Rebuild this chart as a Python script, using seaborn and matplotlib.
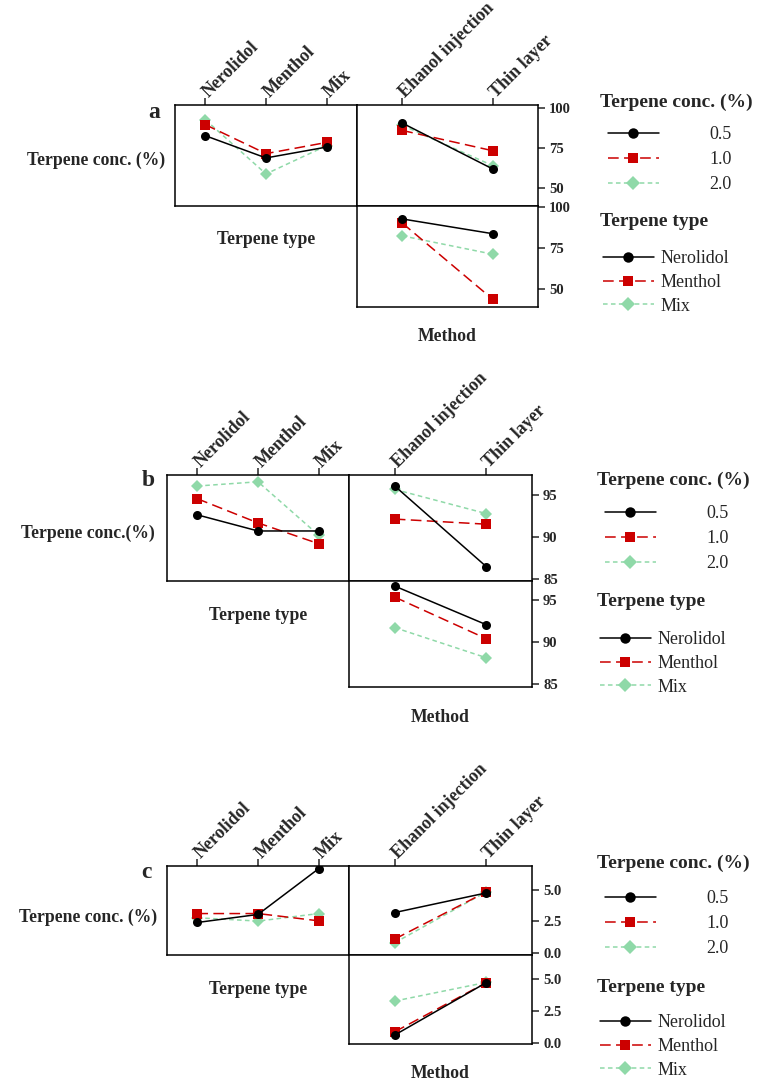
import matplotlib
matplotlib.use("Agg")
import matplotlib.pyplot as plt
import seaborn as sns
import pandas as pd
from matplotlib.lines import Line2D

# ---------------- data ----------------
type_labels = ["Nerolidol", "Menthol", "Mix"]
method_labels = ["Ehanol injection", "Thin layer"]
conc_labels = ["0.5", "1.0", "2.0"]

# panel a
a_type_by_conc = {"0.5": [82.7, 68.8, 75.6], "1.0": [89.6, 71.5, 78.5], "2.0": [92.7, 58.8, 76.5]}
a_method_by_conc = {"0.5": [90.6, 61.9], "1.0": [86.0, 73.3], "2.0": [89.2, 64.0]}
a_method_by_type = {"Nerolidol": [92.7, 83.7], "Menthol": [90.2, 43.7], "Mix": [82.4, 71.2]}
a_yticks = [50, 75, 100]
a_yticklabels = ["50", "75", "100"]

# panel b
b_type_by_conc = {"0.5": [92.6, 90.7, 90.7], "1.0": [94.5, 91.65, 89.2], "2.0": [96.0, 96.5, 90.2]}
b_method_by_conc = {"0.5": [96.0, 86.5], "1.0": [92.1, 91.5], "2.0": [95.6, 92.75]}
b_method_by_type = {"Nerolidol": [96.6, 92.05], "Menthol": [95.3, 90.4], "Mix": [91.7, 88.15]}
b_yticks = [85, 90, 95]
b_yticklabels = ["85", "90", "95"]

# panel c
c_type_by_conc = {"0.5": [2.42, 3.05, 6.64], "1.0": [3.12, 3.12, 2.55], "2.0": [2.79, 2.53, 3.12]}
c_method_by_conc = {"0.5": [3.2, 4.74], "1.0": [1.12, 4.82], "2.0": [0.83, 4.82]}
c_method_by_type = {"Nerolidol": [0.65, 4.72], "Menthol": [0.9, 4.72], "Mix": [3.29, 4.74]}
c_yticks = [0.0, 2.5, 5.0]
c_yticklabels = ["0.0", "2.5", "5.0"]

# ---------------- style ----------------
sns.set_style("white")
SERIF = ["Liberation Serif", "DejaVu Serif"]
plt.rcParams["font.family"] = SERIF

COLORS = ["#000000", "#cc0000", "#8fd9a8"]
MARKERS = ["o", "s", "D"]
DASHES = ["", (7, 3.5), (3, 2.2)]
LS = ["-", (0, (7, 3.5)), (0, (3, 2.2))]

W, H = 765, 1086
fig = plt.figure(figsize=(W / 100, H / 100), dpi=100)


def px_axes(l, t, r, b):
    return fig.add_axes([l / W, 1 - b / H, (r - l) / W, (b - t) / H])


def draw_series(ax, series_dict):
    names = list(series_dict.keys())
    rows = []
    for name in names:
        for j, v in enumerate(series_dict[name]):
            rows.append({"x": j, "y": v, "s": name})
    df = pd.DataFrame(rows)
    order = names[::-1]  # draw black last (on top)
    sns.lineplot(data=df, x="x", y="y", hue="s", style="s", hue_order=order,
                 style_order=order,
                 palette=dict(zip(names, COLORS)),
                 markers=dict(zip(names, MARKERS)),
                 dashes=dict(zip(names, DASHES)),
                 markersize=6.5, markeredgewidth=0, linewidth=1.1,
                 legend=False, ax=ax)
    ax.set_xlabel("")
    ax.set_ylabel("")


def style_ax(ax, n_x, ylim, top_labels=None, yticks=None, yticklabels=None):
    ax.set_xlim(-0.5, n_x - 0.5)
    ax.set_ylim(*ylim)
    for sp in ax.spines.values():
        sp.set_linewidth(1.1)
        sp.set_color("black")
    if top_labels is not None:
        ax.xaxis.tick_top()
        ax.set_xticks(range(n_x))
        ax.set_xticklabels(top_labels, rotation=45, ha="left", va="center",
                           rotation_mode="anchor", fontweight="bold",
                           fontsize=13, family=SERIF)
        ax.tick_params(axis="x", direction="out", length=5, width=1.1, pad=2,
                       top=True, bottom=False)
    else:
        ax.set_xticks([])
    if yticks is not None:
        ax.yaxis.tick_right()
        ax.set_yticks(yticks)
        ax.set_yticklabels(yticklabels, fontweight="bold", fontsize=10.5, family=SERIF)
        ax.tick_params(axis="y", direction="out", length=5, width=1.1, pad=3,
                       right=True, left=False)
    else:
        ax.set_yticks([])
    ax.grid(False)


def panel(letter, box, data_tl, data_tr, data_br, ylim_top, ylim_bot, yticks, yticklabels,
          ylabel, ylabel_pos, letter_pos, leg_pos):
    l, m, r, t, mid, b = box
    ax_tl = px_axes(l, t, m, mid)
    ax_tr = px_axes(m, t, r, mid)
    ax_br = px_axes(m, mid, r, b)
    draw_series(ax_tl, data_tl)
    draw_series(ax_tr, data_tr)
    draw_series(ax_br, data_br)
    style_ax(ax_tl, 3, ylim_top, top_labels=type_labels)
    style_ax(ax_tr, 2, ylim_top, top_labels=method_labels, yticks=yticks, yticklabels=yticklabels)
    style_ax(ax_br, 2, ylim_bot, yticks=yticks, yticklabels=yticklabels)

    fig.text(letter_pos[0] / W, 1 - letter_pos[1] / H, letter, fontsize=17,
             fontweight="bold", ha="center", va="center")
    fig.text(ylabel_pos[0] / W, 1 - ylabel_pos[1] / H, ylabel, fontsize=12.7,
             fontweight="bold", ha="right", va="center")
    fig.text((l + m) / 2 / W, 1 - (mid + 34) / H, "Terpene type", fontsize=12.7,
             fontweight="bold", ha="center", va="center")
    fig.text((m + r) / 2 / W, 1 - (b + 30) / H, "Method", fontsize=12.7,
             fontweight="bold", ha="center", va="center")

    # legends
    lx, ly_t1, ly_e1, ly_t2, ly_e2 = leg_pos
    handles = [Line2D([], [], color=COLORS[i], marker=MARKERS[i], linestyle=LS[i],
                      markersize=7.5, markeredgewidth=0, linewidth=1.1) for i in range(3)]
    fig.text(lx / W, 1 - ly_t1 / H, "Terpene conc. (%)", fontsize=14,
             fontweight="bold", ha="left", va="center")
    fig.legend(handles, conc_labels, loc="upper left",
               bbox_to_anchor=((lx + 8) / W, 1 - (ly_e1 - 9) / H),
               frameon=False, handlelength=2.8, handletextpad=2.8,
               labelspacing=0.45, borderpad=0, borderaxespad=0,
               prop={"family": SERIF, "size": 13})
    fig.text(lx / W, 1 - ly_t2 / H, "Terpene type", fontsize=14,
             fontweight="bold", ha="left", va="center")
    fig.legend(handles, type_labels, loc="upper left",
               bbox_to_anchor=((lx + 3) / W, 1 - (ly_e2 - 9) / H),
               frameon=False, handlelength=2.8, handletextpad=0.4,
               labelspacing=0.38, borderpad=0, borderaxespad=0,
               prop={"family": SERIF, "size": 13})


panel("a", (175, 357, 538, 105, 206, 307),
      a_type_by_conc, a_method_by_conc, a_method_by_type,
      (38.75, 101.9), (39.0, 100.6), a_yticks, a_yticklabels,
      "Terpene conc. (%)", (165, 160), (154, 112), (600, 102, 135, 222, 259))

panel("b", (167, 349, 532, 475, 581, 687),
      b_type_by_conc, b_method_by_conc, b_method_by_type,
      (84.8, 97.3), (84.7, 97.2), b_yticks, b_yticklabels,
      "Terpene conc.(%)", (155, 533), (148, 480), (597, 480, 514, 602, 640))

panel("c", (167, 349, 532, 866, 955, 1044),
      c_type_by_conc, c_method_by_conc, c_method_by_type,
      (-0.13, 6.85), (-0.05, 6.87), c_yticks, c_yticklabels,
      "Terpene conc. (%)", (157, 917), (146, 872), (597, 863, 899, 987, 1023))

fig.savefig("out.png", dpi=100, facecolor="white")
